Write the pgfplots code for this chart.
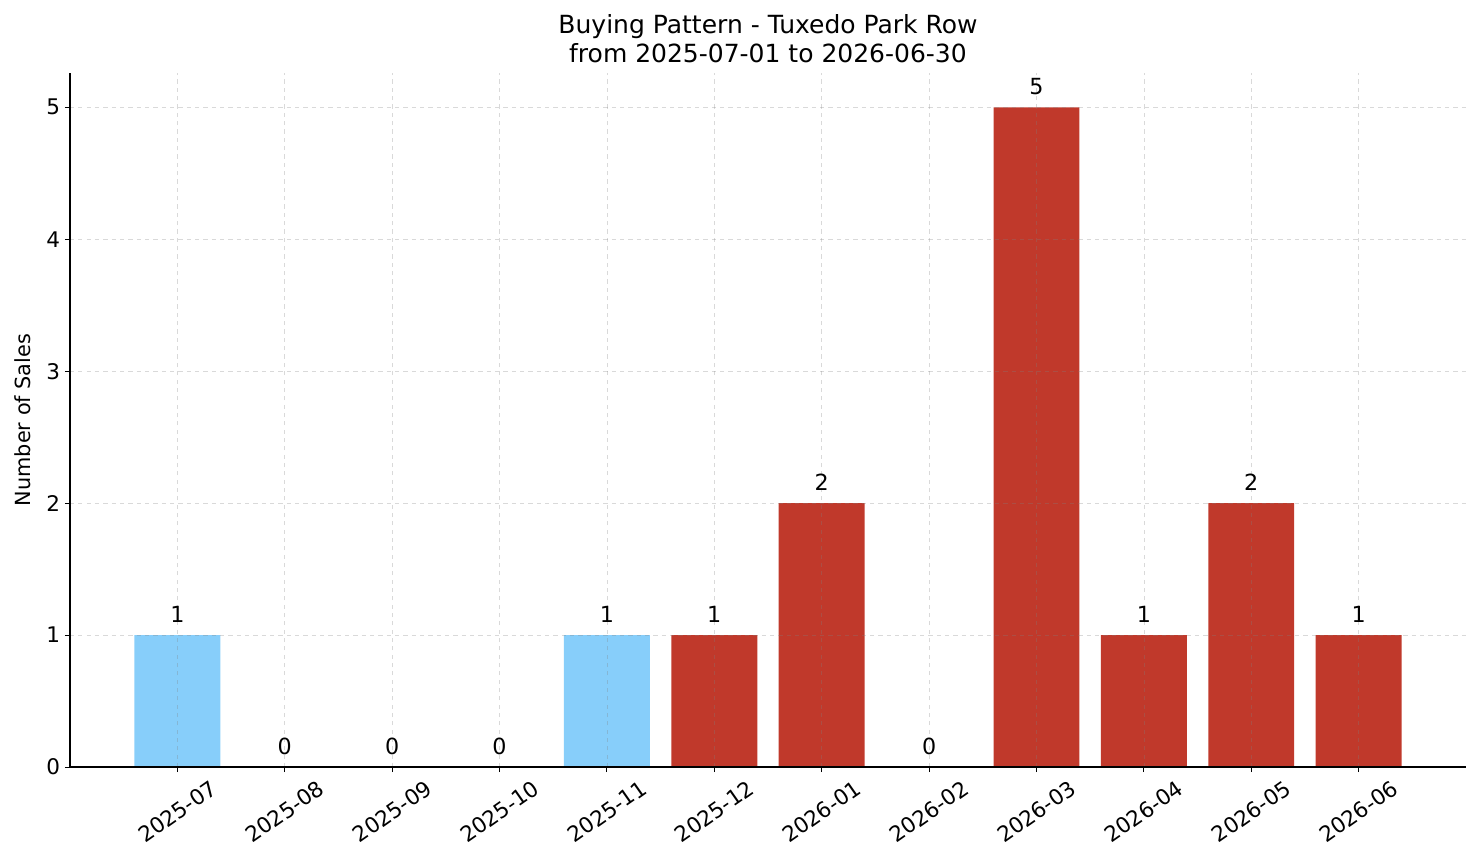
\documentclass[border=0pt]{standalone}
\usepackage{pgfplots}
\pgfplotsset{compat=1.18}
\usepackage{fontspec}
\setmainfont{DejaVu Sans}
\definecolor{lblue}{HTML}{87CEFA}
\definecolor{bred}{HTML}{C0392B}
\begin{document}
\begin{tikzpicture}
\begin{axis}[
  scale only axis,
  width=1005.12pt, height=499.68pt,
  xmin=-1, xmax=12, ymin=0, ymax=5.26,
  ybar, bar width=0.8, bar shift=0pt,
  axis lines*=left,
  axis line style={line width=0.9pt},
  axis on top,
  xtick={0,...,11},
  xticklabels={2025-07,2025-08,2025-09,2025-10,2025-11,2025-12,2026-01,2026-02,2026-03,2026-04,2026-05,2026-06},
  ytick={0,1,2,3,4,5},
  tick align=outside,
  major tick length=3.6pt,
  tick style={line width=0.7pt, black},
  grid=major,
  grid style={dashed, line width=0.5pt, black!50, opacity=0.3},
  /pgf/number format/assume math mode=true,
  ticklabel style={font=\fontsize{15.5}{18}\selectfont},
  xticklabel style={anchor=center, yshift=-28.5pt, rotate=35},
  ylabel={Number of Sales},
  ylabel style={font=\fontsize{15}{18}\selectfont, yshift=4.5pt},
  title={Buying Pattern - Tuxedo Park Row\\from 2025-07-01 to 2026-06-30},
  title style={font=\fontsize{18}{20.5}\selectfont, align=center, yshift=-2pt},
  nodes near coords,
  every node near coord/.append style={font=\fontsize{16}{18}\selectfont, black, yshift=5.5pt},
  point meta=y,
]
\addplot[fill=lblue, draw=none] coordinates {(0,1) (4,1)};
\addplot[fill=bred, draw=none] coordinates {(1,0) (2,0) (3,0) (5,1) (6,2) (7,0) (8,5) (9,1) (10,2) (11,1)};
\end{axis}
\pgfresetboundingbox
\path ([xshift=-50.4pt, yshift=-69.12pt]current axis.south west) rectangle ([xshift=10.8pt, yshift=52.56pt]current axis.north east);
\end{tikzpicture}
\end{document}
